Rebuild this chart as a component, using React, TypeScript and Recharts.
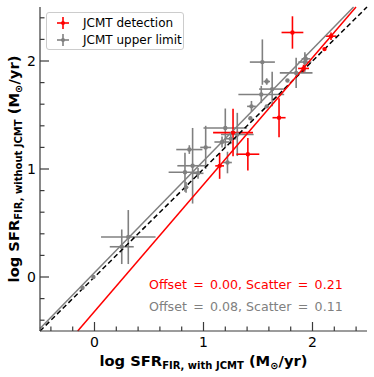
import React from 'react';
import { ScatterChart, Scatter, XAxis, YAxis, ErrorBar, ReferenceLine, Legend } from 'recharts';

// JCMT detection (red)
const detX = [1.816, 2.17, 2.11, 1.918, 1.693, 1.407, 1.271, 1.148];
const detY = [2.264, 2.23, 2.11, 1.931, 1.475, 1.137, 1.337, 1.029];
const detEX = [0.1, 0.05, 0.0, 0.05, 0.06, 0.105, 0.183, 0.04];
const detEY = [0.15, 0.035, 0.0, 0.035, 0.18, 0.15, 0.22, 0.12];

// JCMT upper limit (gray)
const limX = [0.25, 0.31, -0.11, -0.01, 0.87, 0.9, 0.83, 1.02, 0.95, 0.84, 1.22, 1.17, 1.2, 1.31, 1.25, 1.54, 1.58, 1.63, 1.53, 1.44, 1.43, 1.77, 1.93, 1.85, 1.94, 1.58];
const limY = [0.28, 0.37, -0.1, 0.0, 1.18, 1.03, 0.97, 1.2, 0.96, 0.83, 1.06, 1.25, 1.38, 1.32, 1.28, 1.99, 1.81, 1.74, 1.69, 1.58, 1.47, 1.82, 1.99, 1.89, 2.02, 1.58];
const limEX = [0.11, 0.25, 0, 0, 0.12, 0.14, 0.15, 0.05, 0.05, 0.02, 0.04, 0.07, 0.2, 0.15, 0.05, 0.115, 0.03, 0.12, 0.21, 0.04, 0, 0, 0.06, 0.15, 0.04, 0];
const limEY = [0.16, 0.25, 0, 0, 0.04, 0.35, 0.18, 0.2, 0.05, 0.05, 0.1, 0.05, 0.18, 0.2, 0.05, 0.21, 0.03, 0.16, 0.08, 0.05, 0, 0, 0.09, 0.14, 0.04, 0];

const seriesNames = ['JCMT detection', 'JCMT upper limit'];
const seriesColors = ['#ff0000', '#808080'];

// fit lines: slope, intercept
const fitSlopes = [1.0, 1.035, 1.175];
const fitIntercepts = [0.0, 0.04, -0.319];
const fitColors = ['#000000', '#808080', '#ff0000'];
const fitDash = ['5 3', undefined, undefined];

const annotations = ['Offset\u2002=\u20020.00, Scatter\u2002=\u20020.21', 'Offset\u2002=\u20020.08, Scatter\u2002=\u20020.11'];

const AX_MIN = -0.5;
const AX_MAX = 2.5;
const tickValues = [-0.4, -0.2, 0, 0.2, 0.4, 0.6, 0.8, 1.0, 1.2, 1.4, 1.6, 1.8, 2.0, 2.2, 2.4];

const toRows = (xs: number[], ys: number[], exs: number[], eys: number[]) =>
  xs.map((x, i) => ({ x, y: ys[i], ex: exs[i], ey: eys[i] }));

const detData = toRows(detX, detY, detEX, detEY);
const limData = toRows(limX, limY, limEX, limEY);

const clipSegment = (m: number, b: number) => {
  const x0 = Math.max(AX_MIN, (AX_MIN - b) / m);
  const x1 = Math.min(AX_MAX, (AX_MAX - b) / m);
  return [{ x: x0, y: m * x0 + b }, { x: x1, y: m * x1 + b }];
};

const FRAME = '#3a3a3a';
const MAJ = 9;
const MIN = 4.5;
const FONT = 'DejaVu Sans, sans-serif';
const isMajor = (v: number) => Math.abs(v - Math.round(v)) < 1e-6;

const BottomTick = (p: any) => {
  const v = p.payload.value;
  const len = isMajor(v) ? MAJ : MIN;
  return (
    <g>
      <line x1={p.x} x2={p.x} y1={p.y} y2={p.y - len} stroke={FRAME} strokeWidth={1.2} />
      {isMajor(v) && (
        <text x={p.x} y={p.y + 16} textAnchor="middle" fontSize={14} fontFamily={FONT} fill="#000">
          {Math.round(v)}
        </text>
      )}
    </g>
  );
};
const TopTick = (p: any) => {
  const v = p.payload.value;
  const len = isMajor(v) ? MAJ : MIN;
  return <line x1={p.x} x2={p.x} y1={p.y} y2={p.y + len} stroke={FRAME} strokeWidth={1.2} />;
};
const LeftTick = (p: any) => {
  const v = p.payload.value;
  const len = isMajor(v) ? MAJ : MIN;
  return (
    <g>
      <line x1={p.x} x2={p.x + len} y1={p.y} y2={p.y} stroke={FRAME} strokeWidth={1.2} />
      {isMajor(v) && (
        <text x={p.x - 4} y={p.y + 5} textAnchor="end" fontSize={14} fontFamily={FONT} fill="#000">
          {Math.round(v)}
        </text>
      )}
    </g>
  );
};
const RightTick = (p: any) => {
  const v = p.payload.value;
  const len = isMajor(v) ? MAJ : MIN;
  return <line x1={p.x} x2={p.x - len} y1={p.y} y2={p.y} stroke={FRAME} strokeWidth={1.2} />;
};

const XLabel = (props: any) => {
  const vb = props.viewBox || { x: 40, y: 331, width: 327, height: 46 };
  const cx = vb.x + vb.width / 2;
  return (
    <text x={cx} y={vb.y + 35} textAnchor="middle" fontFamily={FONT} fontWeight="bold" fontSize={14.7} fill="#000">
      <tspan>log SFR</tspan>
      <tspan fontSize={10} dy={3}>FIR, with JCMT</tspan>
      <tspan dy={-3}> (M</tspan>
      <tspan fontSize={10} dy={3}>{'\u2299'}</tspan>
      <tspan dy={-3}>/yr)</tspan>
    </text>
  );
};

const YLabel = (props: any) => {
  const vb = props.viewBox || { x: 0, y: 7, width: 40, height: 324 };
  const cy = vb.y + vb.height / 2;
  const bx = 19;
  return (
    <text x={bx} y={cy} transform={`rotate(-90 ${bx} ${cy})`} textAnchor="middle" fontFamily={FONT} fontWeight="bold" fontSize={14.7} fill="#000">
      <tspan>log SFR</tspan>
      <tspan fontSize={10} dy={3}>FIR, without JCMT</tspan>
      <tspan dy={-3}> (M</tspan>
      <tspan fontSize={10} dy={3}>{'\u2299'}</tspan>
      <tspan dy={-3}>/yr)</tspan>
    </text>
  );
};

const Dot = (color: string) => (props: any) => <circle cx={props.cx} cy={props.cy} r={2.2} fill={color} />;

const LegendBox = () => (
  <div
    style={{
      position: 'relative',
      width: 138,
      height: 38,
      border: '1px solid #cccccc',
      borderRadius: 3,
      background: 'rgba(255,255,255,0.8)',
      boxSizing: 'border-box',
      fontFamily: FONT,
      fontSize: 12,
      color: '#000',
    }}
  >
    {seriesNames.map((name, i) => (
      <div key={name} style={{ position: 'absolute', left: 0, top: i === 0 ? 2 : 19, height: 16, width: 136 }}>
        <svg width={20} height={16} style={{ position: 'absolute', left: 6, top: 0 }}>
          <line x1={4} x2={16} y1={8} y2={8} stroke={seriesColors[i]} strokeWidth={1.6} />
          <line x1={10} x2={10} y1={2} y2={14} stroke={seriesColors[i]} strokeWidth={1.6} />
          <circle cx={10} cy={8} r={2} fill={seriesColors[i]} />
        </svg>
        <span style={{ position: 'absolute', left: 36, top: 1, lineHeight: '14px', whiteSpace: 'nowrap' }}>{name}</span>
      </div>
    ))}
  </div>
);

export default function App() {
  return (
    <div style={{ position: 'absolute', left: 0, top: 0, width: 374, height: 377, background: '#fff' }}>
      <ScatterChart width={374} height={377} margin={{ top: 7, right: 7, bottom: 0, left: 0 }}>
        <XAxis
          xAxisId="b"
          type="number"
          dataKey="x"
          domain={[AX_MIN, AX_MAX]}
          allowDataOverflow
          ticks={tickValues}
          interval={0}
          height={46}
          tickSize={0}
          tickMargin={0}
          tickLine={false}
          tick={BottomTick}
          axisLine={{ stroke: FRAME, strokeWidth: 1.2 }}
          label={{ content: XLabel }}
        />
        <XAxis
          xAxisId="t"
          orientation="top"
          type="number"
          dataKey="x"
          domain={[AX_MIN, AX_MAX]}
          allowDataOverflow
          ticks={tickValues}
          interval={0}
          height={0}
          tickSize={0}
          tickMargin={0}
          tickLine={false}
          tick={TopTick}
          axisLine={{ stroke: FRAME, strokeWidth: 1.2 }}
        />
        <YAxis
          yAxisId="l"
          type="number"
          dataKey="y"
          domain={[AX_MIN, AX_MAX]}
          allowDataOverflow
          ticks={tickValues}
          interval={0}
          width={40}
          tickSize={0}
          tickMargin={0}
          tickLine={false}
          tick={LeftTick}
          axisLine={{ stroke: FRAME, strokeWidth: 1.2 }}
          label={{ content: YLabel }}
        />
        <YAxis
          yAxisId="r"
          orientation="right"
          type="number"
          dataKey="y"
          domain={[AX_MIN, AX_MAX]}
          allowDataOverflow
          ticks={tickValues}
          interval={0}
          width={0}
          tickSize={0}
          tickMargin={0}
          tickLine={false}
          tick={RightTick}
          axisLine={{ stroke: FRAME, strokeWidth: 1.2 }}
        />
        <Legend
          layout="horizontal"
          verticalAlign="middle"
          align="center"
          content={LegendBox}
          wrapperStyle={{ position: 'absolute', left: 46, top: 12, width: 138, height: 38 }}
        />
        <Scatter
          name={seriesNames[1]}
          data={limData}
          xAxisId="b"
          yAxisId="l"
          fill={seriesColors[1]}
          shape={Dot(seriesColors[1])}
          isAnimationActive={false}
        >
          <ErrorBar dataKey="ex" direction="x" width={0} stroke={seriesColors[1]} strokeWidth={1.6} isAnimationActive={false} />
          <ErrorBar dataKey="ey" direction="y" width={0} stroke={seriesColors[1]} strokeWidth={1.6} isAnimationActive={false} />
        </Scatter>
        <Scatter
          name={seriesNames[0]}
          data={detData}
          xAxisId="b"
          yAxisId="l"
          fill={seriesColors[0]}
          shape={Dot(seriesColors[0])}
          isAnimationActive={false}
        >
          <ErrorBar dataKey="ex" direction="x" width={0} stroke={seriesColors[0]} strokeWidth={1.6} isAnimationActive={false} />
          <ErrorBar dataKey="ey" direction="y" width={0} stroke={seriesColors[0]} strokeWidth={1.6} isAnimationActive={false} />
        </Scatter>
        {fitSlopes.map((m, i) => (
          <ReferenceLine
            key={i}
            xAxisId="b"
            yAxisId="l"
            segment={clipSegment(m, fitIntercepts[i])}
            stroke={fitColors[i]}
            strokeWidth={1.5}
            strokeDasharray={fitDash[i]}
            ifOverflow="visible"
          />
        ))}
      </ScatterChart>
      <svg width={374} height={377} style={{ position: 'absolute', left: 0, top: 0, pointerEvents: 'none' }}>
        <text x={149} y={289} fontFamily={FONT} fontSize={12.6} fill={seriesColors[0]} style={{ whiteSpace: 'pre' }}>
          {annotations[0]}
        </text>
        <text x={149} y={311} fontFamily={FONT} fontSize={12.6} fill={seriesColors[1]} style={{ whiteSpace: 'pre' }}>
          {annotations[1]}
        </text>
      </svg>
    </div>
  );
}
